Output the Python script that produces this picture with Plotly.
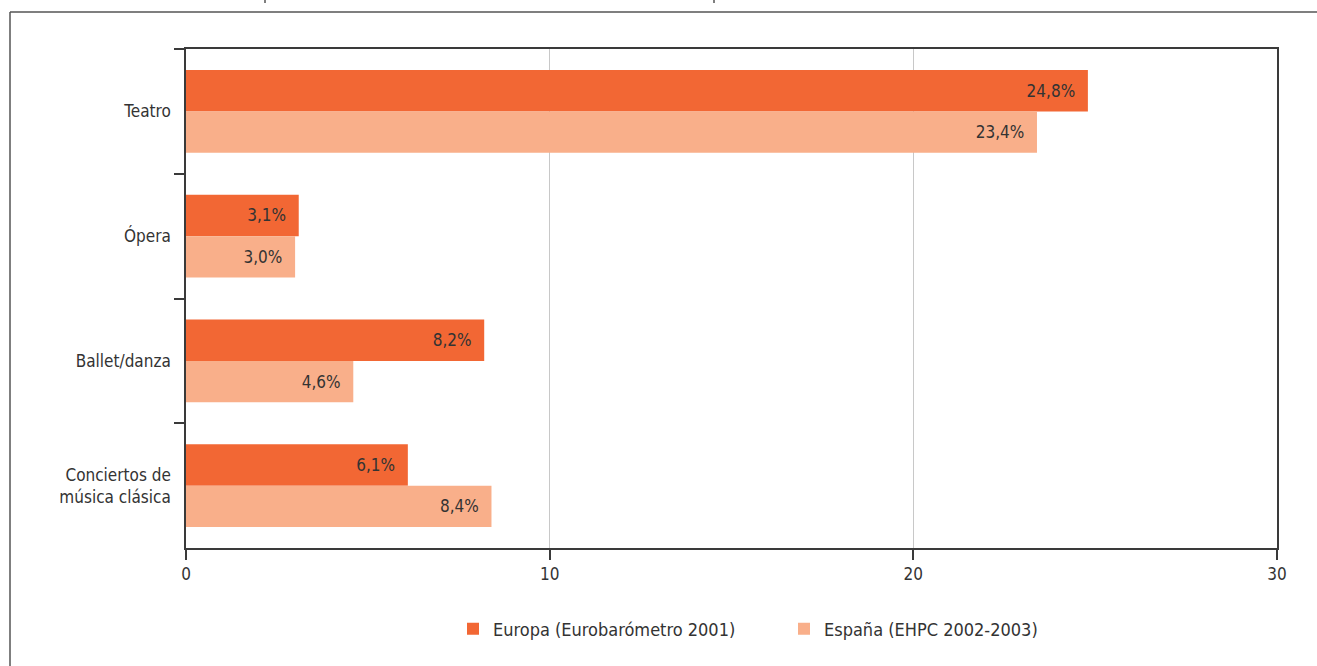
"""Asistencia a espectáculos: Europa vs España."""
import plotly.graph_objects as go

categories = ["Teatro", "Ópera", "Ballet/danza", "Conciertos de<br>música clásica"]
europa = [24.8, 3.1, 8.2, 6.1]
espana = [23.4, 3.0, 4.6, 8.4]
series_names = ["Europa (Eurobarómetro 2001)", "España (EHPC 2002-2003)"]
x_ticks = [0, 10, 20, 30]

FONT = "Liberation Sans Narrow, DejaVu Sans Condensed, Liberation Sans, sans-serif"
TEXT = "#333333"
AXIS = "#3a3a3a"

W, H = 1317, 666
L, R, T, B = 186, 1277, 49, 548


def px(x):
    return (x - L) / (R - L)


def py(y):
    return (B - y) / (B - T)


def label(v):
    return f"{v:.1f}".replace(".", ",") + "%\u00a0\u00a0"


fig = go.Figure()
for name, vals, color in [
    (series_names[0], europa, "#F26734"),
    (series_names[1], espana, "#F9AF8A"),
]:
    fig.add_trace(go.Bar(
        y=categories, x=vals, orientation="h", name=name,
        marker=dict(color=color, line=dict(width=0)),
        text=[label(v) for v in vals],
        textposition="inside", insidetextanchor="end", textangle=0,
        constraintext="none",
        textfont=dict(family=FONT, size=17, color=TEXT),
    ))

# outer frame (top and left edges) plus the small marks above it
frame = dict(type="line", xref="paper", yref="paper", line=dict(color="#555555", width=1.5))
fig.add_shape(**frame, x0=px(10), x1=px(1320), y0=py(12), y1=py(12))
fig.add_shape(**frame, x0=px(10), x1=px(10), y0=py(12), y1=py(670))
for mx in (265, 714):
    fig.add_shape(type="line", xref="paper", yref="paper", x0=px(mx), x1=px(mx),
                  y0=py(0), y1=py(3), line=dict(color="#555555", width=1.5))

fig.update_layout(
    width=W, height=H,
    margin=dict(l=L, r=W - R, t=T, b=H - B),
    paper_bgcolor="white", plot_bgcolor="white",
    barmode="group", bargap=0.335, bargroupgap=0,
    font=dict(family=FONT, size=17, color=TEXT),
    showlegend=True,
    legend=dict(orientation="h", x=px(453), xanchor="left", y=py(629), yanchor="middle",
                entrywidth=286, entrywidthmode="pixels",
                font=dict(family=FONT, size=18, color=TEXT), traceorder="normal"),
    xaxis=dict(range=[0, 30], tickvals=x_ticks, showgrid=True, gridcolor="#c8c8c8",
               gridwidth=1, zeroline=False, showline=True, linecolor=AXIS, linewidth=1.5,
               mirror=True, ticks="outside", ticklen=10, tickcolor=AXIS, tickwidth=1.5,
               tickfont=dict(family=FONT, size=17, color=TEXT)),
    yaxis=dict(autorange="reversed", showgrid=False, zeroline=False, showline=True,
               linecolor=AXIS, linewidth=1.5, mirror=True, ticks="outside",
               tickson="boundaries", ticklen=10, tickcolor=AXIS, tickwidth=1.5,
               ticklabelstandoff=10,
               tickfont=dict(family=FONT, size=17, color=TEXT)),
)

fig.write_html("out.html", config={"displayModeBar": False},
               post_script="document.body.style.margin='0';")
